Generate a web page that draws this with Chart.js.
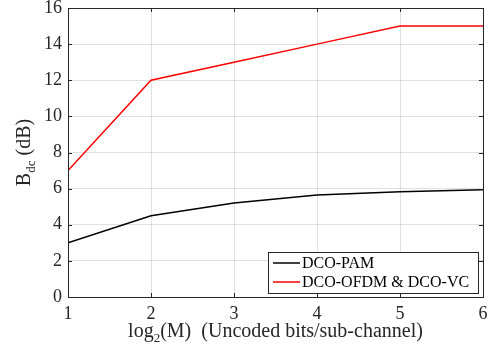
<!DOCTYPE html>
<html>
<head>
<meta charset="utf-8">
<script src="https://cdn.jsdelivr.net/npm/chart.js@4"></script>
<style>
  html, body { margin: 0; padding: 0; background: #fff; }
  #wrap { width: 489px; height: 354px; }
</style>
</head>
<body>
<div id="wrap"><canvas id="chart" width="489" height="354"></canvas></div>
<script>
// x = log2(M)
const bitsPerChannel = [1, 2, 3, 4, 5, 6];
const dcoPam = [3.0, 4.5, 5.2, 5.65, 5.83, 5.94];
const dcoOfdmVc = [7, 12, 13, 14, 15, 15];
const yTicks = [0, 2, 4, 6, 8, 10, 12, 14, 16];

const FONT = '"Liberation Serif", "Times New Roman", serif';

// draws the box, inward ticks, axis titles with subscripts
const matlabAxes = {
    id: 'matlabAxes',
    afterDraw(chart) {
        const ctx = chart.ctx;
        const a = chart.chartArea;
        const xs = chart.scales.x, ys = chart.scales.y;
        ctx.save();
        ctx.strokeStyle = '#262626';
        ctx.lineWidth = 1;
        ctx.beginPath();
        bitsPerChannel.forEach(v => {
            const px = Math.round(xs.getPixelForValue(v)) + 0.5;
            ctx.moveTo(px, a.bottom); ctx.lineTo(px, a.bottom - 4);
            ctx.moveTo(px, a.top); ctx.lineTo(px, a.top + 4);
        });
        yTicks.forEach(v => {
            const py = Math.round(ys.getPixelForValue(v)) + 0.5;
            ctx.moveTo(a.left, py); ctx.lineTo(a.left + 4, py);
            ctx.moveTo(a.right, py); ctx.lineTo(a.right - 4, py);
        });
        ctx.stroke();
        ctx.strokeRect(Math.round(a.left) + 0.5, Math.round(a.top) + 0.5,
            Math.round(a.right - a.left), Math.round(a.bottom - a.top));

        // x title: log2(M)  (Uncoded bits/sub-channel)
        ctx.fillStyle = '#262626';
        ctx.textBaseline = 'alphabetic';
        const big = '20px ' + FONT, small = '13px ' + FONT;
        const parts = [['log', big, 0], ['2', small, 5], ['(M)  (Uncoded bits/sub-channel)', big, 0]];
        let total = 0;
        parts.forEach(p => { ctx.font = p[1]; total += ctx.measureText(p[0]).width; });
        let x = (a.left + a.right) / 2 - total / 2;
        const baseY = 337;
        parts.forEach(p => {
            ctx.font = p[1];
            ctx.fillText(p[0], x, baseY + p[2]);
            x += ctx.measureText(p[0]).width;
        });

        // y title: B_dc (dB), rotated
        ctx.translate(30, (a.top + a.bottom) / 2);
        ctx.rotate(-Math.PI / 2);
        const yparts = [['B', big, 0], ['dc', small, 5], [' (dB)', big, 0]];
        total = 0;
        yparts.forEach(p => { ctx.font = p[1]; total += ctx.measureText(p[0]).width; });
        x = -total / 2;
        yparts.forEach(p => {
            ctx.font = p[1];
            ctx.fillText(p[0], x, 0 + p[2]);
            x += ctx.measureText(p[0]).width;
        });
        ctx.restore();
    }
};

new Chart(document.getElementById('chart'), {
    type: 'line',
    data: {
        datasets: [
            {
                label: 'DCO-PAM',
                data: bitsPerChannel.map((b, i) => ({ x: b, y: dcoPam[i] })),
                borderColor: '#000000',
                borderWidth: 1.5,
                pointRadius: 0,
                tension: 0
            },
            {
                label: 'DCO-OFDM & DCO-VC',
                data: bitsPerChannel.map((b, i) => ({ x: b, y: dcoOfdmVc[i] })),
                borderColor: '#ff0000',
                borderWidth: 1.5,
                pointRadius: 0,
                tension: 0
            }
        ]
    },
    options: {
        responsive: false,
        animation: false,
        layout: { padding: { top: 8, right: 6, left: 0, bottom: 0 } },
        plugins: {
            legend: { display: false },
            tooltip: { enabled: false }
        },
        scales: {
            x: {
                type: 'linear',
                min: 1, max: 6,
                afterBuildTicks: s => { s.ticks = bitsPerChannel.map(v => ({ value: v })); },
                afterFit: s => { s.height = 57; s.paddingLeft = 0; s.paddingRight = 0; },
                grid: { color: 'rgba(0,0,0,0.12)', drawTicks: false },
                border: { display: false },
                ticks: { color: '#262626', font: { family: FONT, size: 18 }, padding: 6, maxRotation: 0 }
            },
            y: {
                min: 0, max: 16,
                afterBuildTicks: s => { s.ticks = yTicks.map(v => ({ value: v })); },
                afterFit: s => { s.width = 68; s.paddingTop = 0; s.paddingBottom = 0; },
                grid: { color: 'rgba(0,0,0,0.12)', drawTicks: false },
                border: { display: false },
                ticks: { color: '#262626', font: { family: FONT, size: 18 }, padding: 6 }
            }
        }
    },
    plugins: [matlabAxes, {
        id: 'boxLegend',
        afterDraw(chart) {
            const ctx = chart.ctx;
            const a = chart.chartArea;
            const items = chart.data.datasets;
            const w = 210, h = 41;
            const lx = a.right - 5 - w, ly = a.bottom - 4 - h;
            ctx.save();
            ctx.fillStyle = '#fff';
            ctx.fillRect(lx, ly, w, h);
            ctx.strokeStyle = '#262626';
            ctx.lineWidth = 1;
            ctx.strokeRect(Math.round(lx) + 0.5, Math.round(ly) + 0.5, w, h);
            ctx.font = '16px ' + FONT;
            ctx.textBaseline = 'middle';
            items.forEach((ds, i) => {
                const cy = ly + 11 + i * 19;
                ctx.strokeStyle = ds.borderColor;
                ctx.lineWidth = 1.5;
                ctx.beginPath();
                ctx.moveTo(lx + 5, cy); ctx.lineTo(lx + 32, cy);
                ctx.stroke();
                ctx.fillStyle = '#000';
                ctx.fillText(ds.label, lx + 34, cy + 1);
            });
            ctx.restore();
        }
    }]
});
</script>
</body>
</html>
